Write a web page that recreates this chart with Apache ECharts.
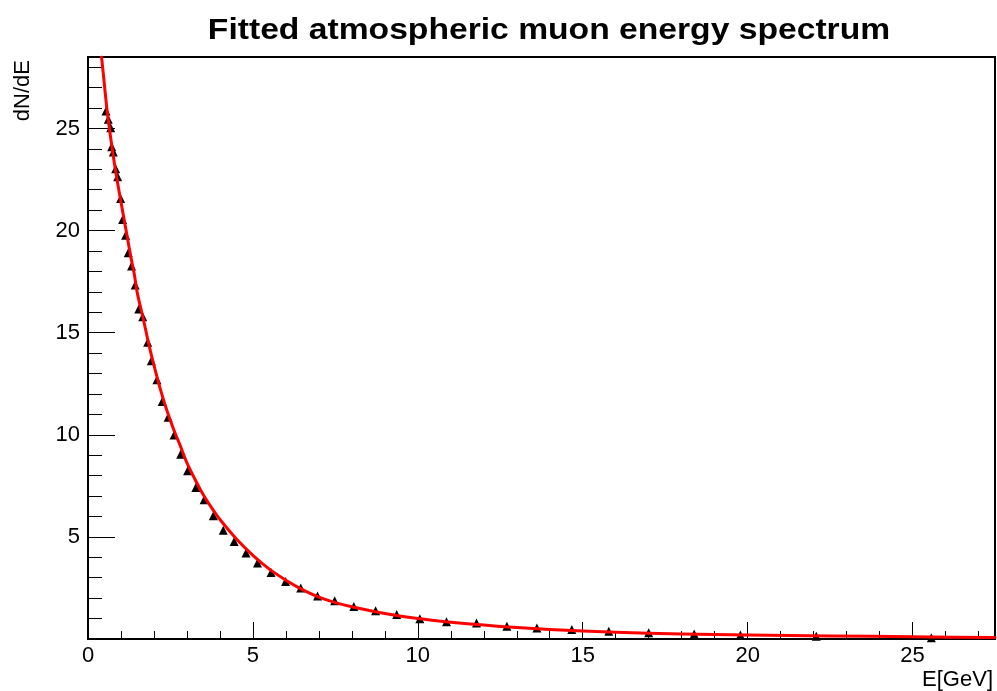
<!DOCTYPE html>
<html>
<head>
<meta charset="utf-8">
<script src="https://cdn.jsdelivr.net/npm/echarts@6/dist/echarts.min.js"></script>
<style>
  html, body { margin: 0; padding: 0; background: #fff; }
  #chart { width: 997px; height: 691px; }
</style>
</head>
<body>
<div id="chart"></div>
<script>
// measured points (triangles)
const energies = [0.545, 0.615, 0.688, 0.718, 0.767, 0.84, 0.9, 0.99, 1.05, 1.14, 1.22, 1.32, 1.43, 1.54, 1.66, 1.81, 1.92, 2.09, 2.25, 2.43, 2.61, 2.81, 3.02, 3.27, 3.52, 3.8, 4.1, 4.43, 4.79, 5.14, 5.55, 5.99, 6.45, 6.96, 7.48, 8.06, 8.72, 9.36, 10.06, 10.87, 11.78, 12.7, 13.61, 14.67, 15.79, 17.0, 18.38, 19.78, 22.08, 25.57];
const counts = [25.86, 25.45, 25.04, 24.1, 23.85, 23.03, 22.63, 21.57, 20.54, 19.77, 18.91, 18.27, 17.34, 16.16, 15.78, 14.53, 13.63, 12.69, 11.63, 10.86, 9.99, 9.05, 8.24, 7.42, 6.82, 6.03, 5.32, 4.78, 4.21, 3.72, 3.26, 2.82, 2.5, 2.1, 1.87, 1.59, 1.38, 1.2, 0.99, 0.84, 0.78, 0.62, 0.54, 0.46, 0.38, 0.31, 0.24, 0.2, 0.13, 0.06];

// fitted curve
const fitE = [0.41, 0.45, 0.5, 0.55, 0.6, 0.7, 0.8, 0.9, 1.0, 1.1, 1.2, 1.3, 1.4, 1.5, 1.6, 1.7, 1.8, 1.9, 2.0, 2.2, 2.4, 2.6, 2.8, 3.0, 3.25, 3.5, 3.75, 4.0, 4.5, 5.0, 5.5, 6.0, 6.5, 7.0, 7.5, 8.0, 9.0, 10.0, 11.0, 12.0, 13.0, 14.0, 16.0, 18.0, 20.0, 22.5, 25.0, 27.5];
const fitY = [28.5, 27.9, 27.1, 26.3, 25.6, 24.4, 23.3, 22.3, 21.4, 20.5, 19.6, 18.7, 17.9, 16.9, 16.2, 15.5, 14.75, 14.05, 13.4, 12.2, 11.15, 10.25, 9.45, 8.62, 7.8, 7.05, 6.42, 5.85, 4.9, 4.1, 3.42, 2.88, 2.42, 2.05, 1.78, 1.58, 1.25, 1.0, 0.82, 0.68, 0.56, 0.47, 0.33, 0.25, 0.2, 0.15, 0.11, 0.07];

const xTicks = [0, 5, 10, 15, 20, 25];
const yTicks = [5, 10, 15, 20, 25];

const font = 'Liberation Sans, Arial, sans-serif';

var chart = echarts.init(document.getElementById('chart'), null, { renderer: 'canvas' });

var option = {
    animation: false,
    backgroundColor: '#fff',
    graphic: [
        {
            type: 'text',
            x: 549, y: 31,
            scaleX: 1.16,
            style: {
                text: 'Fitted atmospheric muon energy spectrum',
                font: 'bold 29px ' + font,
                fill: '#000',
                align: 'center',
                verticalAlign: 'middle'
            }
        }
    ],
    grid: {
        left: 88, right: 2, top: 57, bottom: 52,
        show: true, borderColor: '#000', borderWidth: 2, backgroundColor: 'transparent'
    },
    xAxis: [
        {
            type: 'value', min: 0, max: 27.5, interval: 5,
            name: 'E[GeV]', nameLocation: 'end', nameGap: 0,
            nameTextStyle: { fontFamily: font, fontSize: 22, color: '#000', align: 'right', verticalAlign: 'top', padding: [30, 2, 0, 0] },
            axisLine: { lineStyle: { color: '#000', width: 2 } },
            axisTick: { inside: true, length: 17, lineStyle: { color: '#000', width: 1 } },
            axisLabel: {
                fontFamily: font, fontSize: 22, color: '#000', margin: 6, showMaxLabel: false,
                formatter: v => xTicks.includes(v) ? String(v) : ''
            },
            splitLine: { show: false }
        },
        {
            type: 'value', min: 0, max: 27.5, interval: 1, position: 'bottom',
            axisLine: { show: false },
            axisTick: { inside: true, length: 8, lineStyle: { color: '#000', width: 1 } },
            axisLabel: { show: false },
            splitLine: { show: false }
        }
    ],
    yAxis: [
        {
            type: 'value', min: 0, max: 28.5, interval: 5,
            name: 'dN/dE', nameLocation: 'end', nameGap: -3, nameRotate: 90,
            nameTextStyle: { fontFamily: font, fontSize: 22, color: '#000', align: 'right', verticalAlign: 'bottom', padding: [0, 0, 54, 0] },
            axisLine: { lineStyle: { color: '#000', width: 2 } },
            axisTick: { inside: true, length: 27, lineStyle: { color: '#000', width: 1 } },
            axisLabel: {
                fontFamily: font, fontSize: 22, color: '#000', margin: 8, showMinLabel: false, showMaxLabel: false,
                formatter: v => yTicks.includes(v) ? String(v) : ''
            },
            splitLine: { show: false }
        },
        {
            type: 'value', min: 0, max: 28.5, interval: 1, position: 'left',
            axisLine: { show: false },
            axisTick: { inside: true, length: 14, lineStyle: { color: '#000', width: 1 } },
            axisLabel: { show: false },
            splitLine: { show: false }
        }
    ],
    series: [
        {
            name: 'data',
            type: 'scatter',
            symbol: 'triangle',
            symbolSize: 9,
            itemStyle: { color: '#000', opacity: 1 },
            data: energies.map((e, i) => [e, counts[i]]),
            z: 3
        },
        {
            name: 'fit',
            type: 'line',
            smooth: 0.25,
            showSymbol: false,
            clip: true,
            lineStyle: { color: '#ff0000', width: 3, cap: 'round', join: 'round' },
            data: fitE.map((e, i) => [e, fitY[i]]),
            z: 4
        }
    ]
};

chart.setOption(option);
window.addEventListener('resize', chart.resize);
</script>
</body>
</html>
